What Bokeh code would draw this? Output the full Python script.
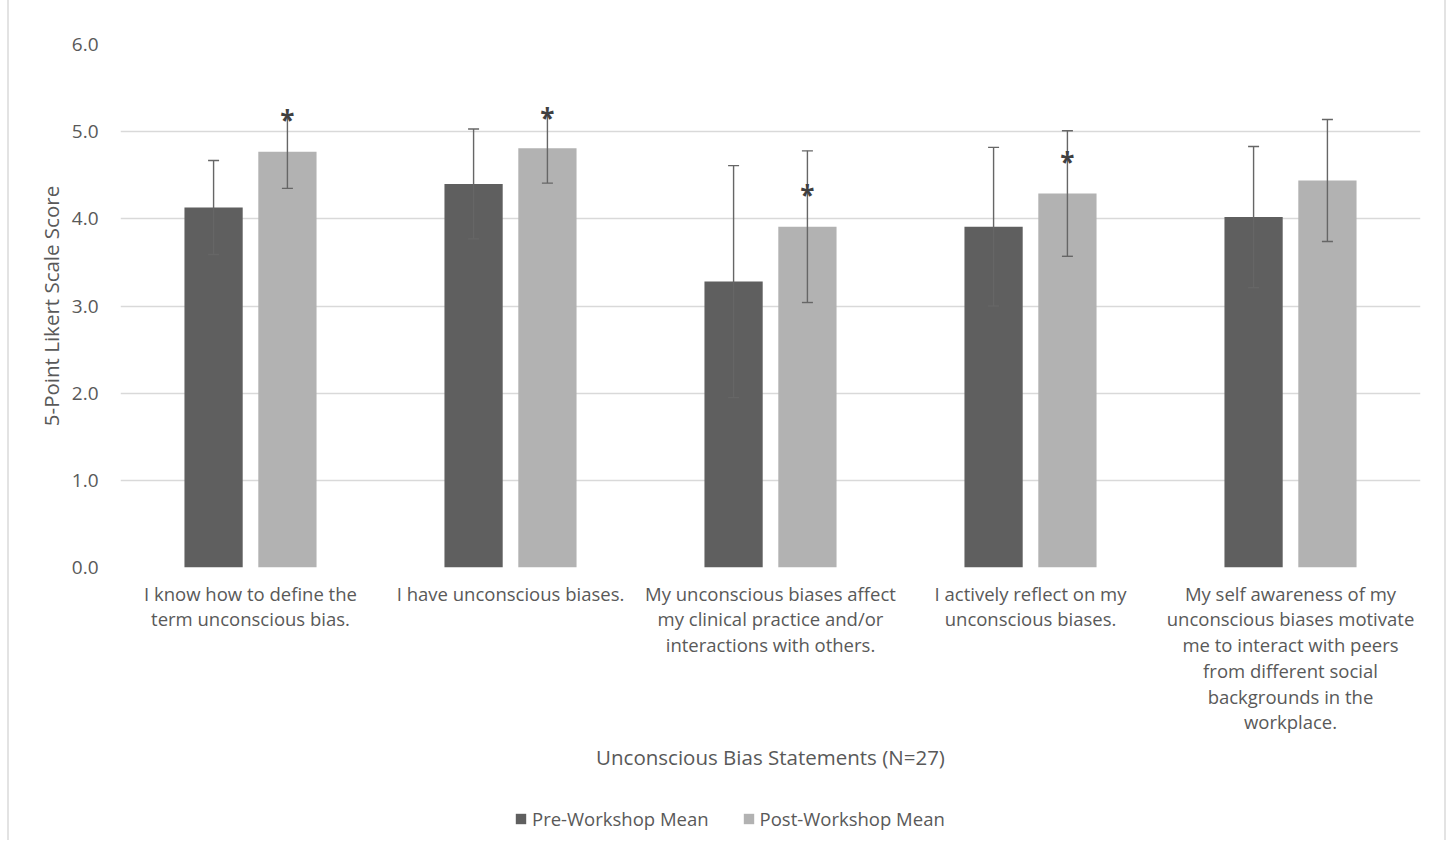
from bokeh.plotting import figure
from bokeh.layouts import column
from bokeh.models import (ColumnDataSource, Whisker, TeeHead, Legend, LegendItem,
                          FactorRange, NumeralTickFormatter, FixedTicker, Range1d)
from bokeh.transform import dodge
from bokeh.core.properties import value
from bokeh.embed import file_html
from bokeh.resources import INLINE

# ---------------- data ----------------
categories = [
    "I know how to define the\nterm unconscious bias.",
    "I have unconscious biases.",
    "My unconscious biases affect\nmy clinical practice and/or\ninteractions with others.",
    "I actively reflect on my\nunconscious biases.",
    "My self awareness of my\nunconscious biases motivate\nme to interact with peers\nfrom different social\nbackgrounds in the\nworkplace.",
]
pre_mean = [4.13, 4.40, 3.28, 3.91, 4.02]
pre_sd = [0.54, 0.63, 1.33, 0.91, 0.81]
post_mean = [4.77, 4.81, 3.91, 4.29, 4.44]
post_sd = [0.42, 0.40, 0.87, 0.72, 0.70]
star_text = ["*", "*", "*", "*", ""]
star_y = [5.15, 5.17, 4.29, 4.66, 4.44]
series_names = ["Pre-Workshop Mean", "Post-Workshop Mean"]
y_ticks = [0, 1, 2, 3, 4, 5, 6]
x_title = "Unconscious Bias Statements (N=27)"
y_title = "5-Point Likert Scale Score"

# ---------------- styling ----------------
FONT = "Open Sans"
TXT = "#595959"
PRE_C = "#5f5f5f"
POST_C = "#b2b2b2"
GRID_C = "#d9d9d9"
ERR_C = "#666666"
OFF = 0.142
BW = 0.224
W = 1435

src = ColumnDataSource(dict(
    cat=categories,
    pre=pre_mean,
    post=post_mean,
    pre_hi=[m + s for m, s in zip(pre_mean, pre_sd)],
    pre_lo=[m - s for m, s in zip(pre_mean, pre_sd)],
    post_hi=[m + s for m, s in zip(post_mean, post_sd)],
    post_lo=[m - s for m, s in zip(post_mean, post_sd)],
    star=star_text,
    star_y=star_y,
))

p = figure(
    x_range=FactorRange(*categories, range_padding=0),
    y_range=Range1d(0, 6),
    width=W, height=800,
    output_backend="svg", toolbar_location=None,
    min_border_left=111, min_border_right=24, min_border_top=44, min_border_bottom=233,
)
p.outline_line_color = None
p.background_fill_color = "white"

r_pre = p.vbar(x=dodge("cat", -OFF, range=p.x_range), top="pre", width=BW, source=src,
               fill_color=PRE_C, line_color=None)
r_post = p.vbar(x=dodge("cat", OFF, range=p.x_range), top="post", width=BW, source=src,
                fill_color=POST_C, line_color=None)

for base_off, hi, lo in [(-OFF, "pre_hi", "pre_lo"), (OFF, "post_hi", "post_lo")]:
    w = Whisker(base=dodge("cat", base_off, range=p.x_range), upper=hi, lower=lo, source=src,
                dimension="height", line_color=ERR_C, line_width=1.4, level="annotation",
                upper_head=TeeHead(size=11, line_color=ERR_C, line_width=1.4),
                lower_head=TeeHead(size=11, line_color=ERR_C, line_width=1.4))
    p.add_layout(w)

p.text(x=dodge("cat", OFF, range=p.x_range), y="star_y", text="star", source=src,
       text_font=value(FONT), text_font_size="26px", text_font_style="bold",
       text_color="#404040", text_align="center", text_baseline="middle", y_offset=1,
       level="overlay")

# axes
p.yaxis.ticker = FixedTicker(ticks=y_ticks)
p.yaxis.formatter = NumeralTickFormatter(format="0.0")
for ax in (p.xaxis[0], p.yaxis[0]):
    ax.axis_line_color = None
    ax.major_tick_line_color = None
    ax.minor_tick_line_color = None
    ax.major_label_text_font = FONT
    ax.major_label_text_color = TXT
    ax.axis_label_text_font = FONT
    ax.axis_label_text_color = TXT
    ax.axis_label_text_font_style = "normal"

p.yaxis.major_label_text_font_size = "19px"
p.yaxis.major_label_standoff = 16
p.yaxis.axis_label = y_title
p.yaxis.axis_label_text_font_size = "20.5px"
p.yaxis.axis_label_standoff = 4

p.xaxis.major_label_text_font_size = "18.5px"
p.xaxis.major_label_text_line_height = 1.03
p.xaxis.major_label_standoff = 7
p.xaxis.axis_label = x_title
p.xaxis.axis_label_text_font_size = "20.5px"
p.xaxis.axis_label_standoff = 6

p.xgrid.grid_line_color = None
p.ygrid.grid_line_color = GRID_C
p.ygrid.grid_line_width = 1.5

# legend strip; its own bars fall outside its y range, so only the legend shows
lf = figure(x_range=FactorRange(*categories, range_padding=0), y_range=Range1d(10, 11),
            width=W, height=40, output_backend="svg", toolbar_location=None,
            x_axis_type=None, y_axis_type=None,
            min_border_left=0, min_border_right=0, min_border_top=0, min_border_bottom=0)
lf.outline_line_color = None
lf.xgrid.grid_line_color = None
lf.ygrid.grid_line_color = None
l_pre = lf.vbar(x=dodge("cat", -OFF, range=lf.x_range), top="pre", width=BW, source=src,
                fill_color=PRE_C, line_color=None)
l_post = lf.vbar(x=dodge("cat", OFF, range=lf.x_range), top="post", width=BW, source=src,
                 fill_color=POST_C, line_color=None)
legend = Legend(items=[LegendItem(label=series_names[0], renderers=[l_pre]),
                       LegendItem(label=series_names[1], renderers=[l_post])],
                orientation="horizontal", location=(394, 9),
                glyph_width=13, glyph_height=13, label_standoff=5, spacing=33,
                padding=0, margin=0, border_line_color=None, background_fill_alpha=0,
                label_text_font=FONT, label_text_font_size="18.5px", label_text_color=TXT)
lf.add_layout(legend, "center")

layout = column(p, lf, spacing=0)
layout.styles = {"margin-left": "7px",
                 "border-left": "2px solid #e3e3e3", "border-right": "2px solid #e3e3e3"}

open("out.html", "w").write(file_html(layout, INLINE))
